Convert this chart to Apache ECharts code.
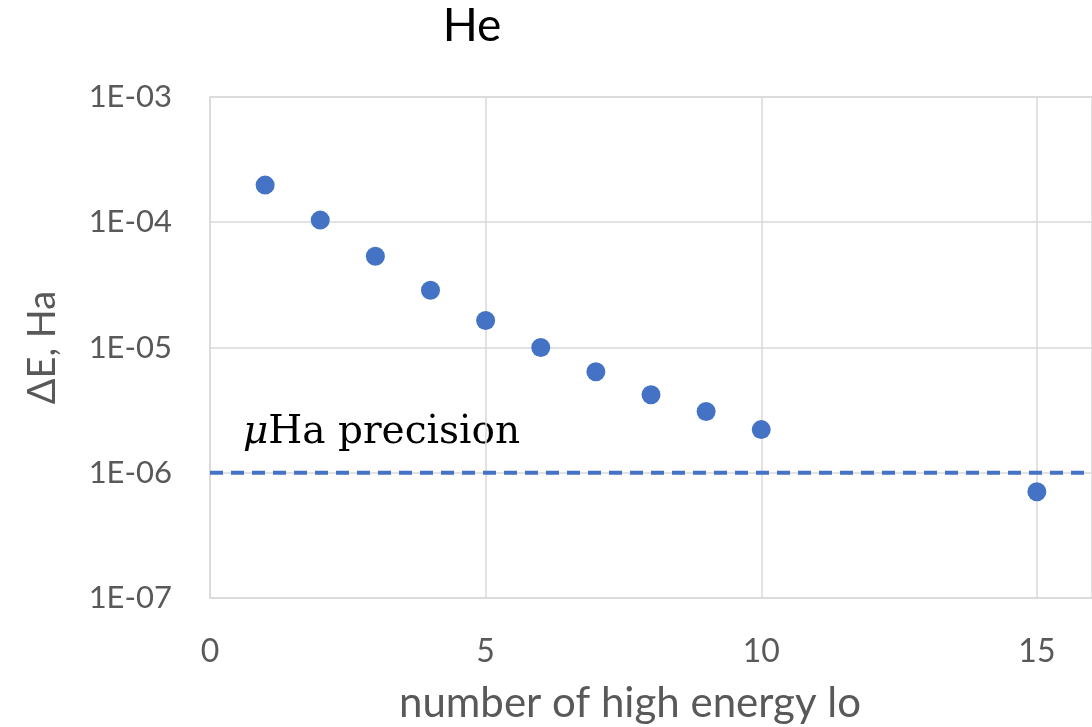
<!DOCTYPE html>
<html>
<head>
<meta charset="utf-8">
<style>
  html, body { margin: 0; padding: 0; background: #fff; }
  #main { width: 1092px; height: 727px; }
</style>
<script src="https://cdn.jsdelivr.net/npm/echarts@6/dist/echarts.min.js"></script>
</head>
<body>
<div id="main"></div>
<script>
// 数据
var nOrbitals = [1, 2, 3, 4, 5, 6, 7, 8, 9, 10, 15];
var deltaE = [1.98e-4, 1.04e-4, 5.35e-5, 2.86e-5, 1.64e-5, 1.0e-5, 6.4e-6, 4.2e-6, 3.08e-6, 2.21e-6, 7.05e-7];
var precisionLevel = 1e-6;
var xMin = 0;
var xMax = 16;   // 右侧被截断

var points = nOrbitals.map(function(x, i){
    return [x, deltaE[i]];
});

var myChart = echarts.init(document.getElementById('main'));

var option = {
    backgroundColor: '#fff',
    animation: false,
    title: {
        text: 'He',
        left: 467,
        top: -2,
        textAlign: 'center',
        textStyle: { fontFamily: 'Lato', fontSize: 46, fontWeight: 'normal', color: '#000' }
    },
    grid: {
        left: 210,
        top: 97,
        bottom: 129,
        right: 0,
        outerBoundsMode: 'none'
    },
    xAxis: {
        type: 'value',
        min: xMin,
        max: xMax,
        interval: 5,
        axisLine: { show: true, lineStyle: { color: '#d9d9d9', width: 1.5 } },
        axisTick: { show: false },
        splitLine: { show: true, lineStyle: { color: '#d9d9d9', width: 1.5 } },
        axisLabel: { color: '#595959', fontFamily: 'Lato', fontSize: 32, margin: 38, showMaxLabel: false }
    },
    yAxis: {
        type: 'log',
        logBase: 10,
        min: 1e-7,
        max: 1e-3,
        name: 'ΔE, Ha',
        nameLocation: 'middle',
        nameGap: 148,
        nameTextStyle: { color: '#595959', fontFamily: 'Lato', fontSize: 38 },
        axisLine: { show: true, lineStyle: { color: '#d9d9d9', width: 1.5 } },
        axisTick: { show: false },
        splitLine: { show: true, lineStyle: { color: '#d9d9d9', width: 1.5 } },
        axisLabel: {
            color: '#595959', fontFamily: 'Lato', fontSize: 31, margin: 38,
            formatter: function(v){
                var e = Math.round(Math.log10(v));
                var s = Math.abs(e) < 10 ? '0' + Math.abs(e) : '' + Math.abs(e);
                return '1E' + (e < 0 ? '-' : '+') + s;
            }
        }
    },
    graphic: [
        {
            type: 'text',
            x: 630,
            y: 703,
            style: {
                text: 'number of high energy lo',
                fontFamily: 'Lato',
                fontSize: 42,
                fill: '#595959',
                align: 'center',
                verticalAlign: 'middle'
            }
        },
        {
            type: 'text',
            x: 243,
            y: 433,
            style: {
                text: '{i|μ}{n|Ha precision}',
                verticalAlign: 'middle',
                rich: {
                    i: { fontFamily: 'DejaVu Serif', fontStyle: 'italic', fontSize: 39, fill: '#000' },
                    n: { fontFamily: 'DejaVu Serif', fontSize: 39, fill: '#000' }
                }
            }
        }
    ],
    series: [
        {
            // μHa 精度线
            type: 'line',
            data: [[xMin, precisionLevel], [xMax, precisionLevel]],
            symbol: 'none',
            silent: true,
            lineStyle: { color: '#4472C4', width: 4, type: [13, 8] },
            z: 1
        },
        {
            type: 'scatter',
            data: points,
            symbol: 'circle',
            symbolSize: 19,
            itemStyle: { color: '#4472C4', opacity: 1 },
            z: 3
        }
    ]
};

myChart.setOption(option);
</script>
</body>
</html>
